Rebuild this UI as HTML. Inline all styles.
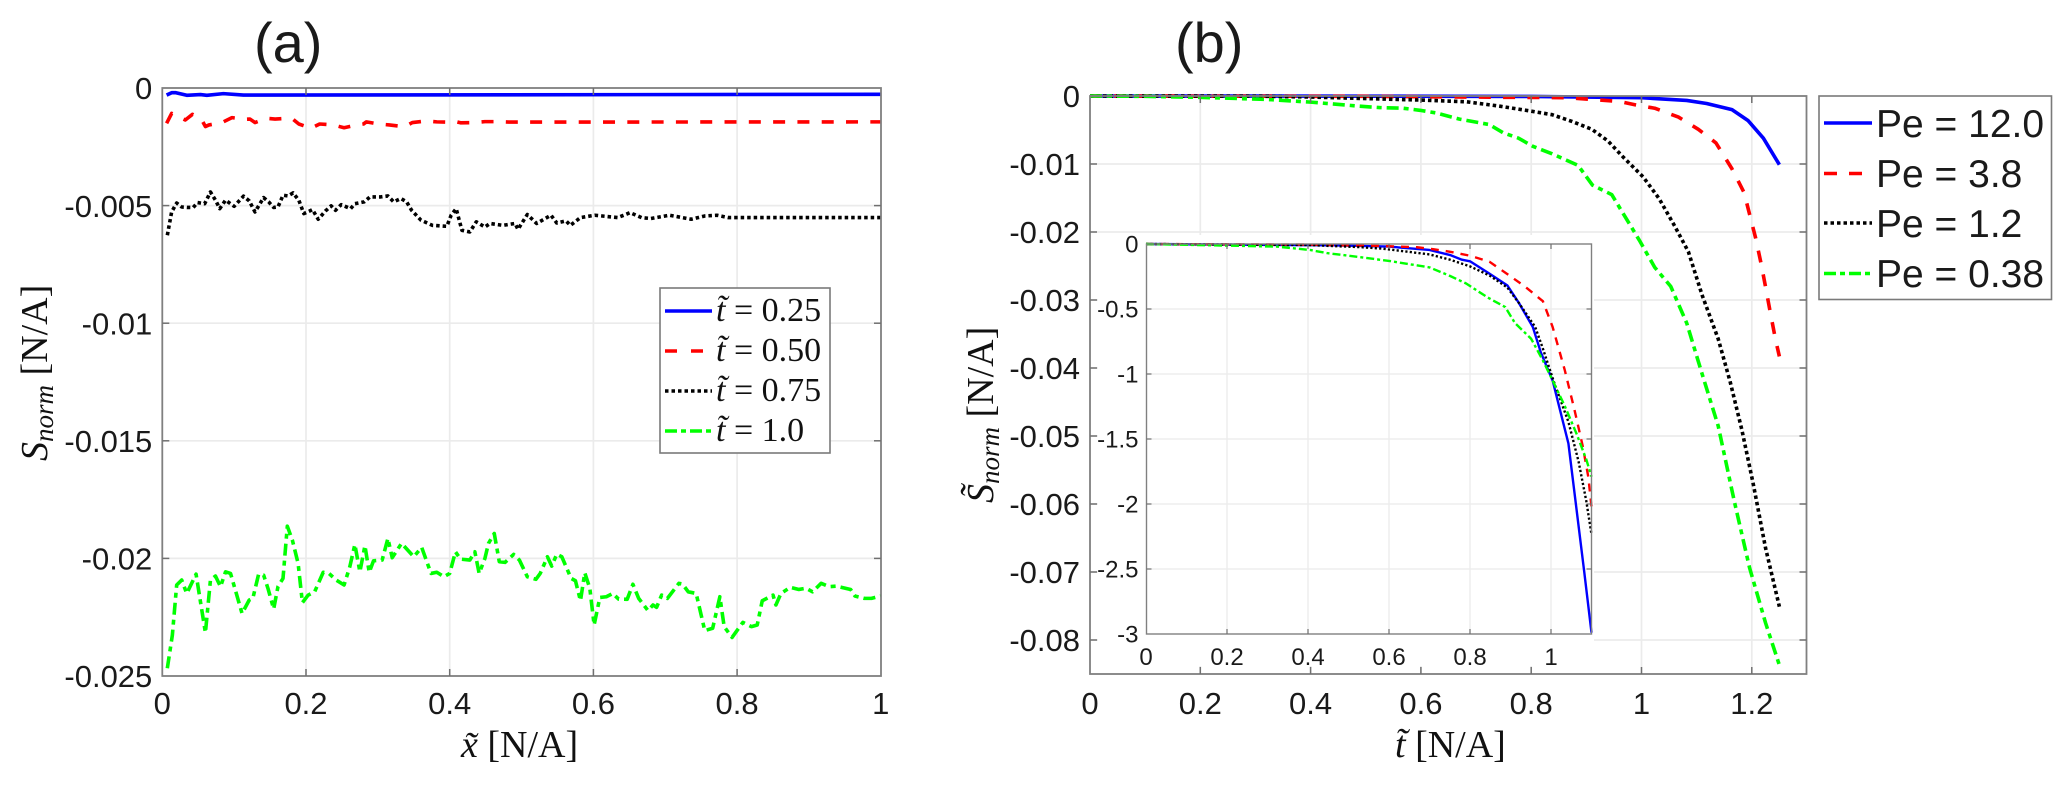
<!DOCTYPE html>
<html>
<head>
<meta charset="utf-8">
<title>Normalized S charts</title>
<style>
html,body{margin:0;padding:0;background:#fff;width:2067px;height:785px;overflow:hidden}
svg{display:block}
text{fill:#1a1a1a}
.sans{font-family:"Liberation Sans",Arial,sans-serif}
.serif{font-family:"Liberation Serif","Times New Roman",serif;fill:#111}
</style>
</head>
<body>
<svg id="figure" xmlns="http://www.w3.org/2000/svg" width="2067" height="785" viewBox="0 0 2067 785">
  <rect x="0" y="0" width="2067" height="785" fill="#fff"/>
  <g id="panel-a"></g>
  <g id="panel-b"></g>
  <g id="panel-inset"></g>

  <text class="sans" x="254" y="62" font-size="56">(a)</text>
  <text class="sans" x="1175" y="62" font-size="56">(b)</text>

  <text class="serif" transform="translate(47,461) rotate(-90)" font-size="38"><tspan font-style="italic">S</tspan><tspan font-style="italic" font-size="27" dy="6">norm</tspan><tspan dy="-6"> [N/A]</tspan></text>
  <text class="serif" x="461" y="757" font-size="38"><tspan font-style="italic">x̃</tspan> [N/A]</text>
  <text class="serif" x="1395" y="757" font-size="38"><tspan font-style="italic">t̃</tspan> [N/A]</text>
  <text class="serif" transform="translate(993,503) rotate(-90)" font-size="38"><tspan font-style="italic">S̃</tspan><tspan font-style="italic" font-size="27" dy="6">norm</tspan><tspan dy="-6"> [N/A]</tspan></text>

  <g>
    <rect x="660" y="288" width="170" height="165" fill="#fff" stroke="#7a7a7a" stroke-width="1.6"/>
    <line x1="665" x2="712" y1="311" y2="311" stroke="#0000ff" stroke-width="3.5"/>
    <line x1="665" x2="703" y1="351" y2="351" stroke="#ff0000" stroke-width="3.5" stroke-dasharray="12 14"/>
    <line x1="665" x2="712" y1="391" y2="391" stroke="#000" stroke-width="3.5" stroke-dasharray="3.5 3"/>
    <line x1="665" x2="712" y1="431" y2="431" stroke="#00ff00" stroke-width="3.5" stroke-dasharray="12 4 5 4"/>
    <text class="serif" x="716" y="321" font-size="34"><tspan font-style="italic">t̃</tspan> = 0.25</text>
    <text class="serif" x="716" y="361" font-size="34"><tspan font-style="italic">t̃</tspan> = 0.50</text>
    <text class="serif" x="716" y="401" font-size="34"><tspan font-style="italic">t̃</tspan> = 0.75</text>
    <text class="serif" x="716" y="441" font-size="34"><tspan font-style="italic">t̃</tspan> = 1.0</text>
  </g>

  <g>
    <rect x="1819" y="96" width="232.5" height="203.5" fill="#fff" stroke="#7a7a7a" stroke-width="1.6"/>
    <line x1="1824" x2="1872" y1="123" y2="123" stroke="#0000ff" stroke-width="3.5"/>
    <line x1="1824" x2="1862" y1="173.5" y2="173.5" stroke="#ff0000" stroke-width="3.5" stroke-dasharray="13 12"/>
    <line x1="1824" x2="1872" y1="223" y2="223" stroke="#000" stroke-width="3.5" stroke-dasharray="3.5 3"/>
    <line x1="1824" x2="1872" y1="273.5" y2="273.5" stroke="#00ff00" stroke-width="3.5" stroke-dasharray="12 4 5 4"/>
    <text class="sans" x="1876" y="137" font-size="39">Pe = 12.0</text>
    <text class="sans" x="1876" y="187" font-size="39">Pe = 3.8</text>
    <text class="sans" x="1876" y="237" font-size="39">Pe = 1.2</text>
    <text class="sans" x="1876" y="287" font-size="39">Pe = 0.38</text>
  </g>
</svg>

<script>
// ---------- panel (a) data ----------
var aXTicks = [0, 0.2, 0.4, 0.6, 0.8, 1];
var aXTickLabels = ['0', '0.2', '0.4', '0.6', '0.8', '1'];
var aYTicks = [0, -0.005, -0.01, -0.015, -0.02, -0.025];
var aYTickLabels = ['0', '-0.005', '-0.01', '-0.015', '-0.02', '-0.025'];

var t025X = [.006,.013,.019,.034,.053,.062,.085,.113,1];
var t025Y = [-.00030,-.00020,-.00020,-.00031,-.00028,-.00031,-.00024,-.00030,-.00027];

var t050X = [.006,.013,.032,.042,.055,.060,.065,.083,.097,.115,.122,.129,.145,.157,.176,.182,.190,.207,.219,.238,.253,.271,.280,.284,.301,.316,.335,.340,.348,.367,.382,.400,.407,.415,.433,.449,.466,.483,1];
var t050Y = [-.00150,-.00108,-.00136,-.00112,-.00136,-.00164,-.00157,-.00147,-.00126,-.00133,-.00132,-.00147,-.00129,-.00132,-.00129,-.00133,-.00153,-.00171,-.00153,-.00157,-.00169,-.00157,-.00153,-.00144,-.00153,-.00157,-.00164,-.00160,-.00147,-.00140,-.00144,-.00145,-.00142,-.00148,-.00147,-.00143,-.00143,-.00145,-.00144];

var t075X = [.007,.013,.020,.027,.035,.043,.049,.059,.067,.074,.080,.088,.100,.113,.121,.129,.141,.148,.155,.161,.168,.175,.182,.190,.197,.205,.209,.217,.227,.235,.241,.249,.262,.268,.281,.289,.304,.314,.322,.332,.340,.347,.360,.376,.396,.402,.409,.417,.428,.437,.449,.456,.474,.491,.495,.508,.521,.541,.549,.562,.568,.582,.602,.634,.651,.667,.680,.706,.736,.755,.772,.788,1];
var t075Y = [-.00626,-.00527,-.00489,-.00506,-.00508,-.00508,-.00487,-.00492,-.00442,-.00477,-.00513,-.00477,-.00503,-.00460,-.00480,-.00527,-.00466,-.00484,-.00508,-.00506,-.00456,-.00459,-.00446,-.00477,-.00534,-.00523,-.00517,-.00558,-.00523,-.00501,-.00520,-.00496,-.00513,-.00492,-.00484,-.00463,-.00463,-.00459,-.00484,-.00470,-.00484,-.00520,-.00562,-.00584,-.00588,-.00541,-.00513,-.00605,-.00612,-.00569,-.00591,-.00576,-.00584,-.00576,-.00601,-.00538,-.00576,-.00541,-.00574,-.00565,-.00584,-.00551,-.00541,-.00551,-.00530,-.00551,-.00555,-.00541,-.00558,-.00544,-.00541,-.00551,-.00551];

var t100X = [.007,.014,.020,.027,.034,.047,.060,.067,.074,.081,.088,.095,.111,.121,.126,.134,.141,.147,.155,.161,.168,.174,.181,.189,.195,.203,.212,.224,.232,.242,.253,.261,.268,.275,.282,.288,.294,.306,.314,.320,.333,.350,.361,.374,.382,.392,.400,.408,.415,.428,.435,.441,.449,.454,.462,.469,.477,.489,.497,.508,.520,.526,.536,.542,.549,.556,.569,.575,.582,.588,.595,.601,.609,.618,.627,.635,.647,.655,.663,.676,.683,.688,.695,.703,.719,.724,.732,.743,.755,.766,.776,.782,.793,.808,.820,.828,.835,.850,.854,.861,.874,.886,.896,.905,.917,.928,.938,.958,.964,.977,.987,1];
var t100Y = [-.02467,-.02326,-.02113,-.02092,-.02149,-.02067,-.02316,-.02092,-.02075,-.02120,-.02057,-.02064,-.02234,-.02177,-.02170,-.02068,-.02071,-.02127,-.02215,-.02120,-.02085,-.01863,-.01922,-.02021,-.02188,-.02156,-.02142,-.02059,-.02064,-.02092,-.02113,-.02035,-.01941,-.02057,-.01946,-.02059,-.02010,-.02007,-.01915,-.01997,-.01936,-.01993,-.01953,-.02064,-.02059,-.02078,-.02064,-.01972,-.02003,-.02007,-.01972,-.02064,-.02000,-.01936,-.01894,-.02014,-.02017,-.01983,-.02007,-.02078,-.02089,-.02064,-.01993,-.02033,-.01982,-.01993,-.02085,-.02095,-.02180,-.02061,-.02127,-.02283,-.02166,-.02163,-.02149,-.02173,-.02174,-.02110,-.02170,-.02222,-.02198,-.02208,-.02156,-.02170,-.02106,-.02109,-.02142,-.02149,-.02307,-.02297,-.02163,-.02290,-.02336,-.02272,-.02290,-.02283,-.02180,-.02156,-.02198,-.02149,-.02123,-.02132,-.02127,-.02142,-.02106,-.02120,-.02118,-.02132,-.02160,-.02170,-.02170,-.02160];

// ---------- panel (b) data ----------
var bXTicks = [0, 0.2, 0.4, 0.6, 0.8, 1, 1.2];
var bXTickLabels = ['0', '0.2', '0.4', '0.6', '0.8', '1', '1.2'];
var bYTicks = [0, -0.01, -0.02, -0.03, -0.04, -0.05, -0.06, -0.07, -0.08];
var bYTickLabels = ['0', '-0.01', '-0.02', '-0.03', '-0.04', '-0.05', '-0.06', '-0.07', '-0.08'];

var pe12X = [0,.5,.8,1.0,1.082,1.118,1.164,1.193,1.221,1.25];
var pe12Y = [0,-.00002,-.00006,-.00025,-.00065,-.0011,-.0020,-.0036,-.0062,-.0101];

var pe38X = [0,.5,.867,.960,.989,1.024,1.067,1.103,1.135,1.164,1.186,1.196,1.207,1.217,1.225,1.233,1.243,1.25];
var pe38Y = [0,-.00005,-.00025,-.0008,-.0013,-.0018,-.0031,-.0049,-.0069,-.0107,-.0142,-.0174,-.0209,-.0247,-.0281,-.0316,-.0358,-.0383];

var pe1X = [0,.3,.4,.6,.683,.743,.795,.838,.874,.910,.939,.967,1.003,1.032,1.060,1.085,1.110,1.139,1.161,1.182,1.203,1.225,1.25];
var pe1Y = [0,-.00002,-.00015,-.0006,-.00085,-.0015,-.00216,-.00275,-.00374,-.0049,-.0066,-.0090,-.0119,-.0151,-.0191,-.0229,-.0293,-.0357,-.0421,-.0491,-.0572,-.0665,-.0751];

var pe038X = [0,.1,.2,.32,.4,.489,.525,.568,.598,.628,.67,.724,.749,.777,.803,.838,.885,.911,.946,.996,1.024,1.053,1.082,1.110,1.139,1.168,1.196,1.225,1.25];
var pe038Y = [0,-.00005,-.0002,-.0005,-.0009,-.0015,-.0017,-.0018,-.0021,-.0025,-.0034,-.0042,-.0054,-.0062,-.0074,-.0085,-.0102,-.0131,-.0145,-.0212,-.0252,-.0280,-.0334,-.0409,-.0485,-.0595,-.0694,-.0775,-.0837];

// ---------- inset data ----------
var iXTicks = [0, 0.2, 0.4, 0.6, 0.8, 1];
var iXTickLabels = ['0', '0.2', '0.4', '0.6', '0.8', '1'];
var iYTicks = [0, -0.5, -1, -1.5, -2, -2.5, -3];
var iYTickLabels = ['0', '-0.5', '-1', '-1.5', '-2', '-2.5', '-3'];

var i12X = [0,.46,.6,.7,.751,.780,.8,.848,.892,.921,.955,.975,1.004,1.043,1.063,1.082,1.10];
var i12Y = [0,-.01,-.02,-.046,-.085,-.121,-.133,-.228,-.318,-.455,-.638,-.835,-1.05,-1.534,-2.04,-2.52,-2.99];

var i38X = [0,.4,.58,.669,.709,.751,.8,.848,.897,.936,.98,1.004,1.034,1.058,1.078,1.092,1.1];
var i38Y = [0,-.005,-.015,-.025,-.040,-.06,-.09,-.136,-.242,-.328,-.44,-.638,-.97,-1.276,-1.55,-1.79,-2.02];

var i1X = [0,.4,.528,.585,.7,.751,.8,.848,.892,.921,.961,.98,1.006,1.043,1.068,1.087,1.1];
var i1Y = [0,-.008,-.024,-.036,-.08,-.121,-.172,-.242,-.334,-.455,-.638,-.805,-1.05,-1.368,-1.672,-1.975,-2.234];

var i038X = [0,.323,.405,.447,.5,.6,.7,.751,.79,.82,.848,.887,.911,.951,.98,1.004,1.034,1.063,1.087,1.1];
var i038Y = [0,-.02,-.046,-.07,-.09,-.13,-.18,-.246,-.303,-.364,-.419,-.485,-.608,-.729,-.896,-1.05,-1.246,-1.459,-1.656,-1.79];

// ---------- axis functions ----------
function aX(v){ return 162.3 + v * 718.5; }
function aY(v){ return 88 - v * 23520; }
function bX(v){ return 1090 + v * 551.5; }
function bY(v){ return 96 - v * 6800; }
function iX(v){ return 1146 + v * 405; }
function iY(v){ return 244 - v * 130; }

var NS = 'http://www.w3.org/2000/svg';
function mk(tag, parent, attrs){
  var el = document.createElementNS(NS, tag);
  for (var k in attrs) el.setAttribute(k, attrs[k]);
  parent.appendChild(el);
  return el;
}

function drawGrid(g, sx, sy, xt, yt, box, w){
  xt.forEach(function(t){
    if (sx(t) <= box.l + 1 || sx(t) >= box.r - 1) return;
    var el = mk('line', g, {x1: sx(t), x2: sx(t), y1: box.t, y2: box.b, stroke: '#ebebeb', 'stroke-width': w});
    
    
  });
  yt.forEach(function(t){
    if (sy(t) <= box.t + 1 || sy(t) >= box.b - 1) return;
    var el = mk('line', g, {x1: box.l, x2: box.r, y1: sy(t), y2: sy(t), stroke: '#ebebeb', 'stroke-width': w});
    
    
  });
}

function drawFrame(g, sx, sy, xt, yt, xl, yl, box, o){
  var frame = mk('rect', g, {x: box.l, y: box.t, width: box.r - box.l, height: box.b - box.t, fill: 'none', stroke: '#808080', 'stroke-width': o.axisW});
  
  
  xt.forEach(function(t, i){
    var x = sx(t);
    if (x > box.l + 1 && x < box.r - 1) {
      var b = mk('line', g, {x1: x, x2: x, y1: box.b, y2: box.b - o.tick, stroke: '#707070', 'stroke-width': o.tickW});
      
      
      var tp = mk('line', g, {x1: x, x2: x, y1: box.t, y2: box.t + o.tick, stroke: '#707070', 'stroke-width': o.tickW});
      
      
    }
    var lab = mk('text', g, {x: x, y: o.xLabY, 'text-anchor': 'middle', 'font-size': o.font, 'class': 'sans'});
    lab.textContent = xl[i];
    
    
  });
  yt.forEach(function(t, i){
    var y = sy(t);
    if (y > box.t + 1 && y < box.b - 1) {
      var l = mk('line', g, {x1: box.l, x2: box.l + o.tick, y1: y, y2: y, stroke: '#707070', 'stroke-width': o.tickW});
      
      
      var r = mk('line', g, {x1: box.r, x2: box.r - o.tick, y1: y, y2: y, stroke: '#707070', 'stroke-width': o.tickW});
      
      
    }
    var lab = mk('text', g, {x: box.l - o.yLabGap, y: y + o.font * 0.36, 'text-anchor': 'end', 'font-size': o.font, 'class': 'sans'});
    lab.textContent = yl[i];
    
    
  });
}

function drawSeries(g, xs, ys, sx, sy, color, dash, width, name){
  var pts = xs.map(function(v, i){ return sx(v).toFixed(2) + ',' + sy(ys[i]).toFixed(2); }).join(' ');
  var el = mk('polyline', g, {points: pts, fill: 'none', stroke: color, 'stroke-width': width, 'stroke-linejoin': 'round'});
  if (dash) el.setAttribute('stroke-dasharray', dash);
  
  
}

var DASH = '12 12.3', DOT = '3.5 3', DASHDOT = '12 5 5 5';
var IDASH = '8 7', IDOT = '2.2 2.2', IDASHDOT = '8 3 3 3';

// panel a
var ga = document.getElementById('panel-a');
var boxA = {l: 162.3, r: 881, t: 88, b: 676};
drawGrid(ga, aX, aY, aXTicks, aYTicks, boxA, 1.7);
drawSeries(ga, t025X, t025Y, aX, aY, '#0000ff', null, 3.6, 'series-t025');
drawSeries(ga, t050X, t050Y, aX, aY, '#ff0000', DASH, 3.6, 'series-t050');
drawSeries(ga, t075X, t075Y, aX, aY, '#000000', DOT, 3.6, 'series-t075');
drawSeries(ga, t100X, t100Y, aX, aY, '#00ff00', DASHDOT, 3.6, 'series-t100');
drawFrame(ga, aX, aY, aXTicks, aYTicks, aXTickLabels, aYTickLabels, boxA, {axisW: 1.8, tickW: 1.5, tick: 7, font: 31, xLabY: 714, yLabGap: 10});

// panel b
var gb = document.getElementById('panel-b');
var boxB = {l: 1090, r: 1806.5, t: 96, b: 674};
drawGrid(gb, bX, bY, bXTicks, bYTicks, boxB, 1.7);
drawSeries(gb, pe12X, pe12Y, bX, bY, '#0000ff', null, 3.6, 'series-pe-12');
drawSeries(gb, pe38X, pe38Y, bX, bY, '#ff0000', DASH, 3.6, 'series-pe-3-8');
drawSeries(gb, pe1X, pe1Y, bX, bY, '#000000', DOT, 3.6, 'series-pe-1-2');
drawSeries(gb, pe038X, pe038Y, bX, bY, '#00ff00', DASHDOT, 3.6, 'series-pe-0-38');
drawFrame(gb, bX, bY, bXTicks, bYTicks, bXTickLabels, bYTickLabels, boxB, {axisW: 1.8, tickW: 1.5, tick: 7, font: 31, xLabY: 714, yLabGap: 10});

// inset
var gi = document.getElementById('panel-inset');
var cover = mk('rect', gi, {x: 1098, y: 235, width: 496, height: 431, fill: '#fff'});


var boxI = {l: 1146.5, r: 1591.5, t: 244, b: 634};
drawGrid(gi, iX, iY, iXTicks, iYTicks, boxI, 1.3);
drawSeries(gi, i12X, i12Y, iX, iY, '#0000ff', null, 2.4, 'inset-series-pe-12');
drawSeries(gi, i38X, i38Y, iX, iY, '#ff0000', IDASH, 2.4, 'inset-series-pe-3-8');
drawSeries(gi, i1X, i1Y, iX, iY, '#000000', IDOT, 2.4, 'inset-series-pe-1-2');
drawSeries(gi, i038X, i038Y, iX, iY, '#00ff00', IDASHDOT, 2.4, 'inset-series-pe-0-38');
drawFrame(gi, iX, iY, iXTicks, iYTicks, iXTickLabels, iYTickLabels, boxI, {axisW: 1.4, tickW: 1.2, tick: 5, font: 24, xLabY: 665, yLabGap: 8});
</script>
</body>
</html>
